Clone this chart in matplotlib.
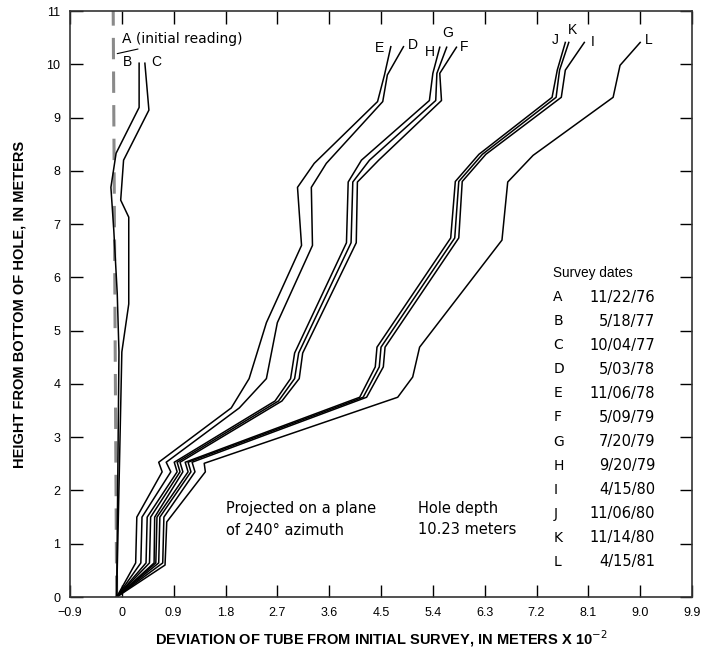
import matplotlib
matplotlib.use("Agg")
import matplotlib.pyplot as plt

# ---- data ----
A_x = [-0.09, -0.15]
A_y = [0.0, 11.0]

B_x = [-0.09, -0.05, -0.08, -0.14, -0.19, -0.10, 0.30, 0.30]
B_y = [0.0, 4.60, 5.70, 6.89, 7.69, 8.33, 9.19, 10.02]
C_x = [-0.09, 0.00, 0.12, 0.12, -0.02, 0.03, 0.47, 0.40]
C_y = [0.0, 4.60, 5.50, 7.13, 7.45, 8.20, 9.14, 10.02]

DE_y = [0.0, 0.64, 1.50, 2.35, 2.53, 3.55, 4.10, 5.15, 6.60, 7.69, 8.14, 9.30, 9.80, 10.33]
E_x = [-0.09, 0.24, 0.26, 0.70, 0.64, 1.90, 2.21, 2.51, 3.12, 3.05, 3.34, 4.44, 4.56, 4.67]
D_x = [-0.09, 0.33, 0.35, 0.85, 0.77, 2.04, 2.51, 2.70, 3.31, 3.29, 3.55, 4.53, 4.61, 4.89]

FGH_y = [0.0, 0.64, 1.50, 2.35, 2.53, 3.68, 4.10, 4.58, 6.65, 7.79, 8.20, 9.32, 9.83, 10.32]
H_x = [-0.09, 0.42, 0.44, 0.96, 0.91, 2.66, 2.93, 3.00, 3.90, 3.93, 4.16, 5.34, 5.40, 5.52]
G_x = [-0.09, 0.48, 0.50, 1.01, 0.96, 2.72, 3.00, 3.07, 3.98, 4.01, 4.30, 5.45, 5.47, 5.64]
F_x = [-0.09, 0.56, 0.57, 1.06, 1.01, 2.78, 3.08, 3.14, 4.07, 4.09, 4.46, 5.55, 5.52, 5.81]

IJK_y = [0.0, 0.64, 1.50, 2.35, 2.53, 3.75, 4.32, 4.69, 6.74, 7.80, 8.31, 9.38, 9.89, 10.41]
J_x = [-0.09, 0.59, 0.61, 1.15, 1.10, 4.13, 4.40, 4.43, 5.71, 5.79, 6.20, 7.47, 7.56, 7.70]
K_x = [-0.09, 0.64, 0.66, 1.20, 1.15, 4.19, 4.47, 4.50, 5.78, 5.85, 6.26, 7.54, 7.60, 7.76]
I_x = [-0.09, 0.71, 0.73, 1.27, 1.22, 4.25, 4.54, 4.57, 5.85, 5.91, 6.32, 7.63, 7.70, 8.03]

L_y = [0.0, 0.60, 1.41, 2.35, 2.51, 3.75, 4.13, 4.69, 6.70, 7.79, 8.29, 9.38, 9.98, 10.41]
L_x = [-0.09, 0.75, 0.78, 1.45, 1.43, 4.79, 5.05, 5.17, 6.60, 6.70, 7.14, 8.53, 8.65, 9.00]

curve_names = ["E", "D", "H", "G", "F", "J", "K", "I", "L"]
label_x = [4.47, 5.05, 5.34, 5.66, 5.95, 7.52, 7.83, 8.18, 9.14]
label_y = [10.30, 10.36, 10.23, 10.58, 10.32, 10.45, 10.64, 10.41, 10.45]

legend_letters = ["A", "B", "C", "D", "E", "F", "G", "H", "I", "J", "K", "L"]
legend_dates = ["11/22/76", "5/18/77", "10/04/77", "5/03/78", "11/06/78", "5/09/79",
                "7/20/79", "9/20/79", "4/15/80", "11/06/80", "11/14/80", "4/15/81"]

xticks = [-0.9, 0, 0.9, 1.8, 2.7, 3.6, 4.5, 5.4, 6.3, 7.2, 8.1, 9.0, 9.9]
xticklabels = ["\u22120.9", "0", "0.9", "1.8", "2.7", "3.6", "4.5", "5.4", "6.3", "7.2", "8.1", "9.0", "9.9"]
yticks = list(range(0, 12))

# ---- figure ----
plt.rcParams['font.family'] = ['Liberation Sans', 'DejaVu Sans']
WIDE = ['DejaVu Sans']
fig = plt.figure(figsize=(7.05, 6.63), dpi=100)
ax = fig.add_axes([0.0993, 0.0995, 0.8823, 0.8839])
ax.set_xlim(-0.9, 9.9)
ax.set_ylim(0, 11)

lw = 1.1
ax.plot(A_x, A_y, color="#8a8a8a", lw=2.2, dashes=(7, 4))
ax.plot(B_x, B_y, color="black", lw=lw)
ax.plot(C_x, C_y, color="black", lw=lw)
for xs in (E_x, D_x):
    ax.plot(xs, DE_y, color="black", lw=lw)
for xs in (H_x, G_x, F_x):
    ax.plot(xs, FGH_y, color="black", lw=lw)
for xs in (J_x, K_x, I_x):
    ax.plot(xs, IJK_y, color="black", lw=lw)
ax.plot(L_x, L_y, color="black", lw=lw)

# curve labels
for n, lx, ly in zip(curve_names, label_x, label_y):
    ax.text(lx, ly, n, fontsize=10, ha="center", va="center")
ax.text(0.09, 10.04, "B", fontsize=10, ha="center", va="center")
ax.text(0.59, 10.04, "C", fontsize=10, ha="center", va="center")
ax.annotate("A (initial reading)", xy=(-0.08, 10.2), xytext=(0.0, 10.47),
            fontsize=10, family=WIDE, ha="left", va="center",
            arrowprops=dict(arrowstyle="-", lw=0.8, color="black", shrinkA=0, shrinkB=0))

# legend block
ax.text(7.49, 6.08, "Survey dates", fontsize=9.8, ha="left", va="center")
for i, (l, d) in enumerate(zip(legend_letters, legend_dates)):
    yy = 5.63 - i * 0.452
    ax.text(7.49, yy, l, fontsize=10, family=WIDE, ha="left", va="center")
    ax.text(9.26, yy, d, fontsize=10.5, family=WIDE, ha="right", va="center")

ax.text(1.81, 1.67, "Projected on a plane", fontsize=10.5, family=WIDE, ha="left", va="center")
ax.text(1.81, 1.24, "of 240\u00b0 azimuth", fontsize=10.5, family=WIDE, ha="left", va="center")
ax.text(5.14, 1.67, "Hole depth", fontsize=10.5, family=WIDE, ha="left", va="center")
ax.text(5.14, 1.26, "10.23 meters", fontsize=10.5, family=WIDE, ha="left", va="center")

# axes styling
ax.set_xticks(xticks)
ax.set_xticklabels(xticklabels)
ax.set_yticks(yticks)
ax.tick_params(direction="in", length=9, width=1.0, top=True, right=True,
               labeltop=False, labelright=False, labelsize=9, pad=7)
for s in ax.spines.values():
    s.set_linewidth(1.2)
    s.set_color("#333333")

ax.set_xlabel("DEVIATION OF TUBE FROM INITIAL SURVEY, IN METERS X 10$^{-2}$",
              fontsize=10.5, fontweight="bold", labelpad=7)
ax.set_ylabel("HEIGHT FROM BOTTOM OF HOLE, IN METERS", fontsize=10.5,
              fontweight="bold", labelpad=14)

fig.savefig("out.png", dpi=100)
